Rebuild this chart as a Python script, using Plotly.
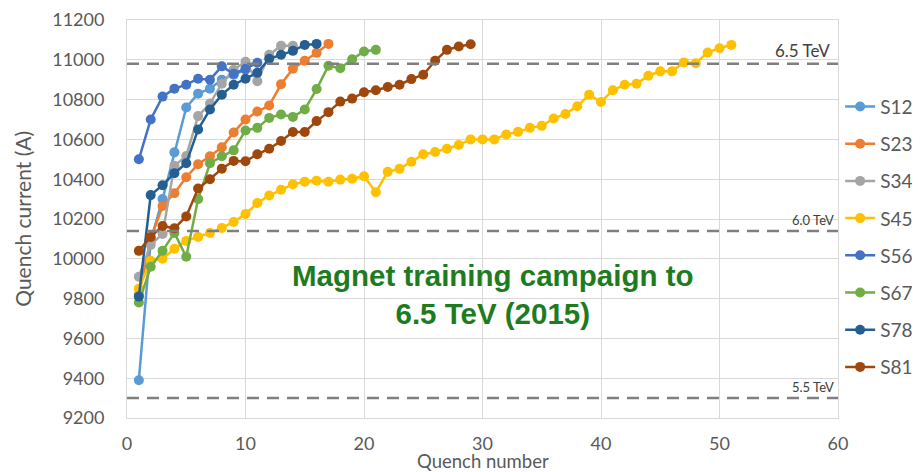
import plotly.graph_objects as go

series_names = ["S12", "S23", "S34", "S45", "S56", "S67", "S78", "S81"]

S12 = [9390, 10090, 10300, 10535, 10760, 10830, 10855, 10900, 10925, 10950]
S23 = [9820, 10100, 10265, 10330, 10410, 10475, 10515, 10560, 10635, 10700, 10740,
       10770, 10877, 10955, 10995, 11035, 11080]
S34 = [9910, 10070, 10125, 10467, 10517, 10717, 10780, 10880, 10950, 10990, 10892,
       11025, 11070, 11070]
S45 = [9850, 9990, 10000, 10050, 10090, 10110, 10130, 10155, 10185, 10225, 10280,
       10318, 10347, 10375, 10387, 10392, 10387, 10398, 10402, 10415, 10335, 10437,
       10452, 10488, 10525, 10537, 10553, 10572, 10600, 10600, 10600, 10625, 10638,
       10658, 10668, 10705, 10728, 10767, 10825, 10788, 10847, 10875, 10880, 10920,
       10942, 10942, 10987, 10983, 11037, 11058, 11075]
S56 = [10500, 10700, 10815, 10855, 10875, 10905, 10900, 10967, 10930, 10955, 10985]
S67 = [9780, 9960, 10040, 10130, 10010, 10300, 10480, 10515, 10545, 10645, 10658,
       10708, 10725, 10713, 10750, 10853, 10970, 10958, 11003, 11042, 11050]
S78 = [9810, 10320, 10370, 10430, 10480, 10650, 10750, 10825, 10875, 10905, 10935,
       11005, 11025, 11045, 11075, 11080]
S81 = [10040, 10110, 10165, 10153, 10213, 10353, 10400, 10453, 10492, 10490, 10525,
       10553, 10592, 10637, 10637, 10692, 10737, 10790, 10805, 10837, 10847, 10863,
       10875, 10903, 10925, 10995, 11050, 11067, 11078]

series_values = [S12, S23, S34, S45, S56, S67, S78, S81]
colors = ["#5B9BD5", "#ED7D31", "#A5A5A5", "#FFC000", "#4472C4", "#70AD47",
          "#255E91", "#9E480E"]

energy_levels = [10980, 10140, 9300]
energy_labels = ["6.5 TeV", "6.0 TeV", "5.5 TeV"]
energy_label_sizes = [17, 13, 13]
energy_label_x = [0.992, 0.997, 0.997]

x_ticks = [0, 10, 20, 30, 40, 50, 60]
y_ticks = list(range(9200, 11201, 200))

FONT = "Lato, 'Open Sans', sans-serif"
GRAY = "#595959"

fig = go.Figure()
for name, vals, col in zip(series_names, series_values, colors):
    fig.add_trace(go.Scatter(
        x=list(range(1, len(vals) + 1)), y=vals, name=name,
        mode="lines+markers", legendgroup=name,
        line=dict(color=col, width=2.5),
        marker=dict(color=col, size=10),
    ))

for lvl, lab, fs, lx in zip(energy_levels, energy_labels, energy_label_sizes, energy_label_x):
    fig.add_shape(type="line", xref="paper", x0=0, x1=1, yref="y", y0=lvl, y1=lvl,
                  line=dict(color="#7F7F7F", width=2.5, dash="12px,8px"), layer="above")
    fig.add_annotation(xref="paper", x=lx, yref="y", y=lvl, text=lab,
                       showarrow=False, xanchor="right", yanchor="bottom", yshift=1,
                       font=dict(family=FONT, size=fs, color="#404040"))

fig.add_annotation(xref="paper", x=0.515, yref="paper", y=0.31,
                   text="<b>Magnet training campaign to<br>6.5 TeV (2015)</b>",
                   showarrow=False, align="center", xanchor="center", yanchor="middle",
                   font=dict(family="'Liberation Sans', Arial, sans-serif", size=29.5,
                             color="#1E7B1E"))

# axis titles
fig.add_annotation(xref="paper", x=0.5, yref="paper", y=-0.108, text="Quench number",
                   showarrow=False, xanchor="center", yanchor="middle",
                   font=dict(family=FONT, size=18.5, color=GRAY))
fig.add_annotation(xref="paper", x=-0.148, yref="paper", y=0.5,
                   text="Quench current (A)", textangle=-90,
                   showarrow=False, xanchor="center", yanchor="middle",
                   font=dict(family=FONT, size=21, color=GRAY))

# the page body adds an 8px margin; the figure is sized/offset so the plot area lands where the reference has it
fig.update_layout(
    width=904, height=464,
    margin=dict(l=119, r=74, t=12, b=54, autoexpand=False),
    paper_bgcolor="white", plot_bgcolor="white",
    font=dict(family=FONT, color=GRAY, size=16),
    legend=dict(x=1.003, xanchor="left", y=0.83, yanchor="top",
                tracegroupgap=9.5, font=dict(size=19, color=GRAY),
                bgcolor="rgba(0,0,0,0)"),
    showlegend=True,
)
fig.update_xaxes(range=[0, 60], tickvals=x_ticks, showgrid=True, gridcolor="#D9D9D9",
                 gridwidth=1, showline=True, linecolor="#D9D9D9", mirror=True,
                 zeroline=False, ticks="", ticklabelstandoff=9, automargin=False,
                 tickfont=dict(size=18, color=GRAY))
fig.update_yaxes(range=[9200, 11200], tickvals=y_ticks, tickformat="d", showgrid=True,
                 gridcolor="#D9D9D9", gridwidth=1, showline=True, linecolor="#D9D9D9",
                 mirror=True, zeroline=False, ticks="", ticklabelstandoff=18,
                 automargin=False, tickfont=dict(size=18, color=GRAY))

fig.write_html("out.html")
